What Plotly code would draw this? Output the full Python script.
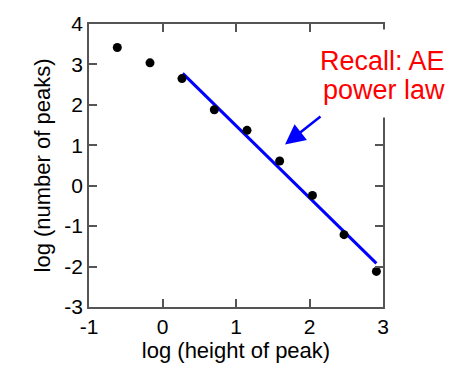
import plotly.graph_objects as go

# log-log peak statistics
log_height = [-0.615, -0.17, 0.265, 0.705, 1.15, 1.594, 2.04, 2.47, 2.91]
log_count = [3.42, 3.04, 2.65, 1.88, 1.37, 0.61, -0.24, -1.21, -2.12]

# power-law fit segment (end points)
fit_x = [0.275, 2.91]
fit_y = [2.78, -1.92]

x_ticks = [-1, 0, 1, 2, 3]
y_ticks = [-3, -2, -1, 0, 1, 2, 3, 4]
x_labels = ["-1", "0", "1", "2", "3"]
y_labels = ["-3", "-2", "-1", "0", "1", "2", "3", "4"]

FONT = "Liberation Sans, Arial, sans-serif"
FRAME = "#555555"

fig = go.Figure()
fig.add_trace(go.Scatter(
    x=fit_x, y=fit_y, mode="lines",
    line=dict(color="#0000ff", width=3), showlegend=False, hoverinfo="skip"))
fig.add_trace(go.Scatter(
    x=log_height, y=log_count, mode="markers",
    marker=dict(color="black", size=9), showlegend=False))

axis_common = dict(
    showgrid=False, zeroline=False, showline=True, linecolor=FRAME, linewidth=1.5,
    mirror="ticks", ticks="inside", ticklen=8, tickwidth=1.5, tickcolor=FRAME,
    tickfont=dict(family=FONT, size=21, color="black"),
)

fig.update_layout(
    width=449, height=369,
    margin=dict(l=89, r=66, t=16, b=62),
    paper_bgcolor="white", plot_bgcolor="white",
    font=dict(family=FONT, color="black"),
    xaxis=dict(axis_common, range=[-1, 3], tickvals=x_ticks, ticktext=x_labels,
               title=dict(text="log (height of peak)", font=dict(size=22), standoff=4)),
    yaxis=dict(axis_common, range=[-3, 4], tickvals=y_ticks, ticktext=y_labels,
               title=dict(text="log (number of peaks)", font=dict(size=22), standoff=8)),
)

# white label box over the right frame
fig.add_annotation(
    xref="paper", yref="paper", x=(383.5 - 89) / 294, y=(307 - 66.5) / 291,
    text=" ", showarrow=False, width=131, height=87, bgcolor="white",
    borderpad=0, xanchor="center", yanchor="middle")
fig.add_annotation(
    xref="paper", yref="paper", x=(447 - 89) / 294, y=(307 - 54) / 291,
    text="Recall: AE", showarrow=False, xanchor="right", yanchor="middle",
    font=dict(family=FONT, size=27, color="#ff0000"))
fig.add_annotation(
    xref="paper", yref="paper", x=(447 - 89) / 294, y=(307 - 84) / 291,
    text="power law", showarrow=False, xanchor="right", yanchor="middle",
    font=dict(family=FONT, size=27, color="#ff0000"))
# arrow pointing at the fit line
fig.add_annotation(
    x=1.667, y=1.02, ax=2.17, ay=1.74, xref="x", yref="y", axref="x", ayref="y",
    text="", showarrow=True, arrowhead=2, arrowsize=1.6, arrowwidth=2.5,
    arrowcolor="#0000ff")

fig.write_html("out.html")
